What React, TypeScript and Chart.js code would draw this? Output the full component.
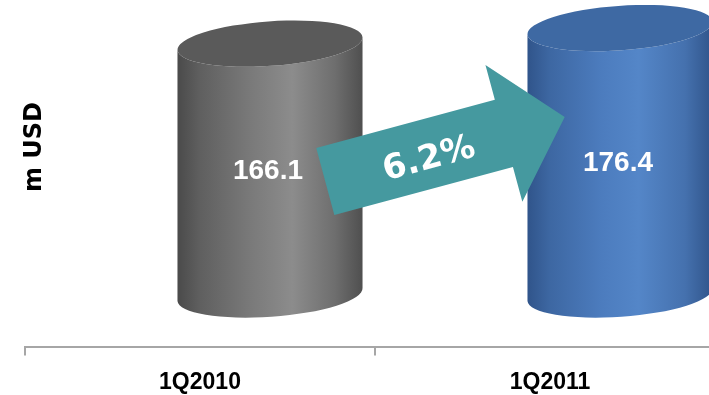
import { useEffect, useRef } from 'react';
import { Chart, registerables } from 'chart.js';

Chart.register(...registerables);

// Quarterly revenue, million USD
const categories = ['1Q2010', '1Q2011'];
const revenue = [166.1, 176.4];
const valueLabels = ['166.1', '176.4'];
const growthLabel = '6.2%';
const axisTitle = 'm USD';

// Cylinder shading: side gradient stops and lid colour per bar
const sideStops: [number, string][][] = [
  [
    [0, '#4a4a4a'],
    [0.12, '#5f5f5f'],
    [0.4, '#7a7a7a'],
    [0.62, '#8c8c8c'],
    [0.85, '#6e6e6e'],
    [1, '#4f4f4f'],
  ],
  [
    [0, '#30548a'],
    [0.12, '#3d67a2'],
    [0.4, '#4c7cbe'],
    [0.6, '#5486c8'],
    [0.85, '#4571ae'],
    [1, '#30548a'],
  ],
];
const lidColors = ['#5a5a5a', '#3e69a3'];
const arrowColor = '#45999f';

const BAR_PCT = 0.53;
const DEPTH_SHIFT = 0.2; // perspective shift as a share of the category slot
const LID_RATIO = 0.12; // lid ellipse height relative to bar width
const LID_TILT = -0.07;

const cylinderPlugin = {
  id: 'cylinders',
  afterDatasetsDraw(chart: any) {
    const { ctx, chartArea } = chart;
    const meta = chart.getDatasetMeta(0);
    const base = chart.scales.y.getPixelForValue(0);
    const centers: number[] = [];
    let rx = 0;

    meta.data.forEach((bar: any, i: number) => {
      const { x, y, width } = bar.getProps(['x', 'y', 'width'], true);
      const slot = width / BAR_PCT;
      const cx = x + slot * DEPTH_SHIFT;
      rx = width / 2;
      const ry = width * LID_RATIO;
      centers.push(cx);

      const grad = ctx.createLinearGradient(cx - rx, 0, cx + rx, 0);
      sideStops[i].forEach(([p, c]) => grad.addColorStop(p, c));

      ctx.save();
      ctx.fillStyle = grad;
      ctx.beginPath();
      ctx.ellipse(cx, base, rx, ry, LID_TILT, Math.PI, 0, true);
      ctx.ellipse(cx, y, rx, ry, LID_TILT, 0, Math.PI, false);
      ctx.closePath();
      ctx.fill();

      ctx.fillStyle = lidColors[i];
      ctx.beginPath();
      ctx.ellipse(cx, y, rx, ry, LID_TILT, 0, Math.PI * 2);
      ctx.fill();

      ctx.fillStyle = '#ffffff';
      ctx.font = 'bold 28px "Liberation Sans", Arial, sans-serif';
      ctx.textAlign = 'center';
      ctx.textBaseline = 'middle';
      ctx.fillText(valueLabels[i], cx - 2, (y + base) / 2 + 2);
      ctx.restore();
    });

    // growth arrow between the two cylinders
    if (centers.length === 2) {
      const gx = (centers[0] + rx + centers[1] - rx) / 2;
      const gy = (chartArea.top + base) / 2 + 2;
      const angle = (-15.1 * Math.PI) / 180;
      ctx.save();
      ctx.translate(gx, gy);
      ctx.rotate(angle);
      ctx.fillStyle = arrowColor;
      ctx.beginPath();
      ctx.moveTo(-124, -34.7);
      ctx.lineTo(61, -34.7);
      ctx.lineTo(61, -70.8);
      ctx.lineTo(124, 0);
      ctx.lineTo(61, 70.8);
      ctx.lineTo(61, 34.7);
      ctx.lineTo(-124, 34.7);
      ctx.closePath();
      ctx.fill();
      ctx.fillStyle = '#ffffff';
      ctx.font = 'bold 34px "DejaVu Sans", sans-serif';
      ctx.textAlign = 'center';
      ctx.textBaseline = 'middle';
      ctx.fillText(growthLabel, -18, 6);
      ctx.restore();
    }

    // vertical unit title
    ctx.save();
    ctx.translate(35, 147);
    ctx.rotate(-Math.PI / 2);
    ctx.fillStyle = '#000000';
    ctx.font = 'bold 24px "DejaVu Sans", sans-serif';
    ctx.textAlign = 'center';
    ctx.textBaseline = 'middle';
    ctx.fillText(axisTitle, 0, 0);
    ctx.restore();
  },
};

export default function App() {
  const canvasRef = useRef<HTMLCanvasElement | null>(null);

  useEffect(() => {
    if (!canvasRef.current) return;
    const chart = new Chart(canvasRef.current, {
      type: 'bar',
      data: {
        labels: categories,
        datasets: [
          {
            data: revenue,
            backgroundColor: 'rgba(0,0,0,0)',
            borderWidth: 0,
            barPercentage: BAR_PCT,
            categoryPercentage: 1,
          },
        ],
      },
      options: {
        animation: false,
        responsive: false,
        maintainAspectRatio: false,
        layout: { padding: { left: 25, right: 15, top: 0, bottom: 0 } },
        plugins: { legend: { display: false }, tooltip: { enabled: false } },
        scales: {
          x: {
            grid: {
              display: true,
              drawOnChartArea: false,
              drawTicks: true,
              tickLength: 8,
              color: '#a6a6a6',
              lineWidth: 2,
              offset: true,
            },
            border: { display: true, color: '#a6a6a6', width: 2 },
            ticks: {
              color: '#000000',
              font: { family: '"Liberation Sans", Arial, sans-serif', weight: 'bold', size: 23 },
              padding: 13,
            },
          },
          y: { display: false, min: -35, max: 195 },
        },
      },
      plugins: [cylinderPlugin],
    });
    return () => chart.destroy();
  }, []);

  return (
    <div
      style={{
        position: 'absolute',
        left: 0,
        top: 0,
        width: 709,
        height: 395,
        overflow: 'hidden',
        background: '#ffffff',
      }}
    >
      <canvas ref={canvasRef} width={740} height={409} style={{ display: 'block' }} />
    </div>
  );
}
